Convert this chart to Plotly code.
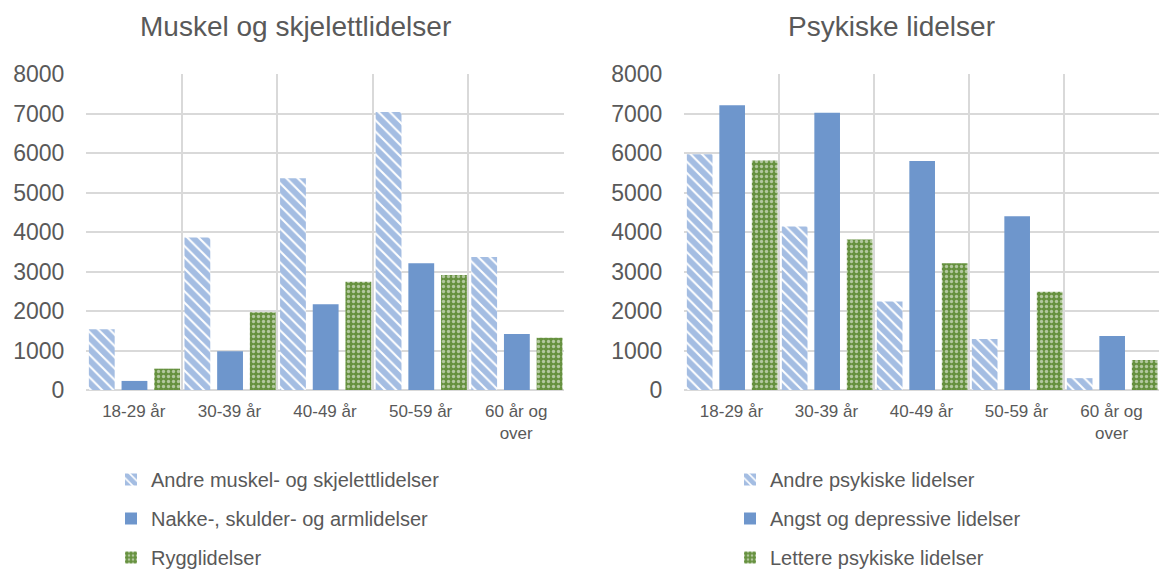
import plotly.graph_objects as go

# ---- data ----
categories = ["18-29 år", "30-39 år", "40-49 år", "50-59 år", "60 år og<br>over"]

musk_names = ["Andre muskel- og skjelettlidelser", "Nakke-, skulder- og armlidelser", "Rygglidelser"]
musk_andre = [1540, 3860, 5360, 7040, 3370]
musk_nakke = [230, 980, 2170, 3210, 1420]
musk_rygg = [540, 1970, 2740, 2910, 1320]

psyk_names = ["Andre psykiske lidelser", "Angst og depressive lidelser", "Lettere psykiske lidelser"]
psyk_andre = [5970, 4140, 2240, 1290, 300]
psyk_angst = [7210, 7020, 5800, 4400, 1370]
psyk_lett = [5810, 3810, 3210, 2490, 760]

y_ticks = [0, 1000, 2000, 3000, 4000, 5000, 6000, 7000, 8000]

# ---- styles ----
W, H = 1161, 573
TXT = "#595959"
GRID = "#D9D9D9"
BLUE = "#6E96CC"
STRIPE = "#4A7CC6"
GREEN = "#66913F"
FONT = "Liberation Sans, Arial, sans-serif"

bar_w = 0.27
offsets = [-0.47, -0.128, 0.214]

def styles(i):
    if i == 0:
        return dict(color="white",
                    pattern=dict(shape="\\", fgcolor=STRIPE, bgcolor="white", size=8, solidity=0.75),
                    line=dict(width=0))
    if i == 1:
        return dict(color=BLUE, line=dict(width=0))
    return dict(color=GREEN,
                pattern=dict(shape=".", fgcolor="white", bgcolor=GREEN, size=5, solidity=0.35),
                line=dict(width=0))

fig = go.Figure()

for i, (name, vals) in enumerate(zip(musk_names, [musk_andre, musk_nakke, musk_rygg])):
    fig.add_trace(go.Bar(x=categories, y=vals, name=name, width=bar_w, offset=offsets[i],
                         marker=styles(i), xaxis="x", yaxis="y", legend="legend",
                         legendgroup="m%d" % i, hoverinfo="skip"))

for i, (name, vals) in enumerate(zip(psyk_names, [psyk_andre, psyk_angst, psyk_lett])):
    fig.add_trace(go.Bar(x=categories, y=vals, name=name, width=bar_w, offset=offsets[i],
                         marker=styles(i), xaxis="x2", yaxis="y2", legend="legend2",
                         legendgroup="p%d" % i, hoverinfo="skip"))

ytop = 1 - 74 / H
ybot = 1 - 390 / H

xaxis_common = dict(type="category", categoryorder="array", categoryarray=categories,
                    tickson="boundaries", showgrid=True, gridcolor=GRID, gridwidth=1.5,
                    ticks="outside", ticklen=10, tickcolor="rgba(0,0,0,0)",
                    ticklabelstandoff=9,
                    tickfont=dict(size=17, color=TXT, family=FONT), automargin=False,
                    showline=False, zeroline=False, fixedrange=True)
yaxis_common = dict(range=[0, 8000], tickvals=y_ticks, showgrid=True, gridcolor=GRID, gridwidth=1.5,
                    zeroline=True, zerolinecolor=GRID, zerolinewidth=1.5,
                    ticks="outside", ticklen=16, tickcolor="rgba(0,0,0,0)",
                    tickfont=dict(size=23, color=TXT, family=FONT), automargin=False,
                    showline=False, domain=[ybot, ytop], fixedrange=True)

legend_common = dict(xanchor="left", yanchor="top", y=1 - 460 / H,
                     font=dict(size=20, color=TXT, family=FONT), tracegroupgap=10,
                     bgcolor="rgba(0,0,0,0)", traceorder="grouped")

fig.update_layout(
    width=W, height=H,
    margin=dict(l=0, r=0, t=0, b=0, autoexpand=False),
    paper_bgcolor="white", plot_bgcolor="white",
    barmode="overlay",
    font=dict(family=FONT, color=TXT),
    xaxis=dict(domain=[86 / W, 564 / W], anchor="y", **xaxis_common),
    yaxis=dict(anchor="x", **yaxis_common),
    xaxis2=dict(domain=[684 / W, 1159 / W], anchor="y2", **xaxis_common),
    yaxis2=dict(anchor="x2", **yaxis_common),
    legend=dict(x=111 / W, **legend_common),
    legend2=dict(x=730 / W, **legend_common),
    annotations=[
        dict(text="Muskel og skjelettlidelser", x=295 / W, y=1 - 27 / H, xref="paper", yref="paper",
             xanchor="center", yanchor="middle", showarrow=False,
             font=dict(size=28, color=TXT, family=FONT)),
        dict(text="Psykiske lidelser", x=891 / W, y=1 - 27 / H, xref="paper", yref="paper",
             xanchor="center", yanchor="middle", showarrow=False,
             font=dict(size=28, color=TXT, family=FONT)),
    ],
    showlegend=True,
)

fig.write_html("out.html", config={"displayModeBar": False},
               post_script="document.body.style.margin='0';")
